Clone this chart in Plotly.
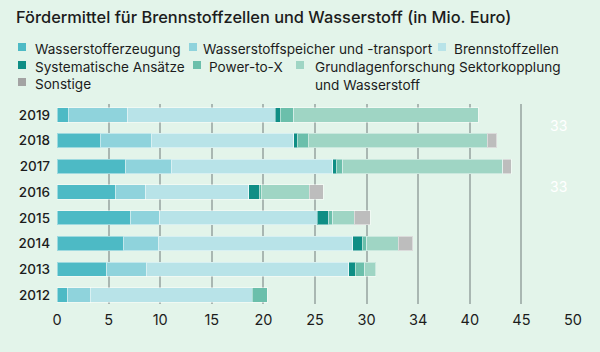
import plotly.graph_objects as go

years = ["2019", "2018", "2017", "2016", "2015", "2014", "2013", "2012"]
series_names = [
    "Wasserstofferzeugung",
    "Wasserstoffspeicher und -transport",
    "Brennstoffzellen",
    "Systematische Ansätze",
    "Power-to-X",
    "Grundlagenforschung Sektorkopplung<br>und Wasserstoff",
    "Sonstige",
]
wasserstofferzeugung = [1.1, 4.2, 6.65, 5.7, 7.15, 6.4, 4.8, 1.05]
speicher_transport = [5.75, 4.95, 4.4, 2.9, 2.8, 3.4, 3.85, 2.15]
brennstoffzellen = [14.3, 13.8, 15.65, 10.0, 15.25, 18.85, 19.6, 15.7]
systematische = [0.5, 0.35, 0.35, 1.0, 1.15, 0.95, 0.65, None]
power_to_x = [1.3, 1.05, 0.65, 0.2, 0.35, 0.4, 0.9, 1.45]
grundlagen = [17.85, 17.35, 15.5, 4.65, 2.1, 3.05, 1.1, None]
sonstige = [None, 0.9, 0.8, 1.35, 1.55, 1.4, None, None]
series_values = [wasserstofferzeugung, speicher_transport, brennstoffzellen,
                 systematische, power_to_x, grundlagen, sonstige]
colors = ["#4dbac5", "#8fd3dc", "#b8e3e8", "#0f8e85", "#6bbfab", "#9fd5c4", "#bdbdbd"]
legend_colors = ["#4dbac5", "#8fd3dc", "#b8e3e8", "#0f8e85", "#6bbfab", "#9fd5c4", "#a3a3a3"]

tick_vals = [0, 5, 10, 15, 20, 25, 30, 35, 40, 45, 50]
tick_text = ["0", "5", "10", "15", "20", "25", "30", "34", "40", "45", "50"]
extra_labels = ["33", "33"]

W, H = 600, 352
ML, MR, MT, MB = 57, 27, 104, 48
PW, PH = W - ML - MR, H - MT - MB
BG = "#e3f4ea"
FONT = "Inter"

def px(x):
    return (x - ML) / PW

def py(y):
    return (H - MB - y) / PH

fig = go.Figure()
for name, vals, col in zip(series_names, series_values, colors):
    fig.add_trace(go.Bar(
        y=years, x=vals, name=name, orientation="h",
        marker=dict(color=col, line=dict(color="rgba(255,255,255,0.45)", width=1)),
        width=0.56, showlegend=False,
    ))

# manual legend
legend_items = [
    (0, 18, 33, 48), (1, 189, 201, 48), (2, 438, 452, 48),
    (3, 18, 33, 66), (4, 193, 207, 66), (5, 296, 313, 66),
    (6, 18, 33, 83),
]
for idx, mx, tx, ty in legend_items:
    fig.add_shape(type="rect", xref="paper", yref="paper",
                  x0=px(mx), x1=px(mx + 8), y0=py(ty - 5), y1=py(ty + 3),
                  fillcolor=legend_colors[idx], line=dict(width=0))
    fig.add_annotation(xref="paper", yref="paper", x=px(tx), y=py(ty - 9),
                       text=series_names[idx], showarrow=False,
                       xanchor="left", yanchor="top", align="left",
                       font=dict(family=FONT, size=13.6, color="#1c1c1c"))

# stray labels
for lab, yv in zip(extra_labels, [6.57, 4.2]):
    fig.add_annotation(x=48.6, y=yv, text=lab, showarrow=False,
                       font=dict(family=FONT, size=14, color="#ffffff"))

fig.add_annotation(xref="paper", yref="paper", x=px(14), y=py(17),
                   text="Fördermittel für Brennstoffzellen und Wasserstoff (in Mio. Euro)",
                   showarrow=False, xanchor="left", yanchor="middle",
                   font=dict(family=FONT, size=16.4, color="#1c1c1c", weight=500))

fig.update_layout(
    width=W, height=H, barmode="stack",
    margin=dict(l=ML, r=MR, t=MT, b=MB, pad=0),
    paper_bgcolor=BG, plot_bgcolor=BG,
    bargap=0.44,
)
fig.update_xaxes(range=[0, 50], tickvals=tick_vals, ticktext=tick_text,
                 showgrid=True, gridcolor="#a9b7b2", gridwidth=1.5,
                 zeroline=False, showline=False, ticks="",
                 ticklabelstandoff=5,
                 tickfont=dict(family=FONT, size=14.5, color="#1c1c1c"))
fig.update_yaxes(categoryorder="array", categoryarray=years[::-1],
                 range=[-0.35, 7.42], showgrid=False, zeroline=False,
                 showline=False, ticks="", ticklabelstandoff=6,
                 tickfont=dict(family=FONT, size=13.5, color="#1c1c1c", weight=500))

fig.write_html("out.html")
